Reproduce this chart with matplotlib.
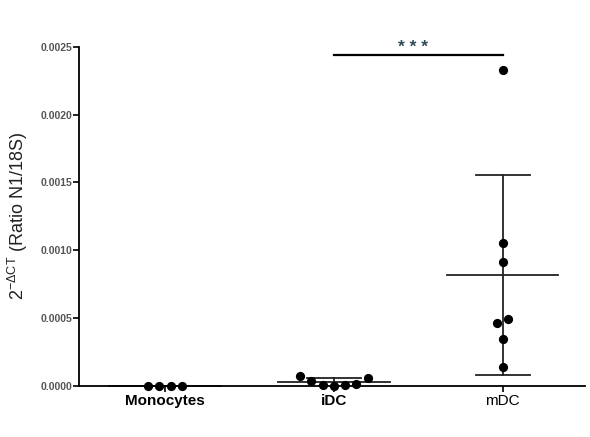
import numpy as np
import matplotlib
matplotlib.use("Agg")
import matplotlib.pyplot as plt

plt.rcParams['font.family'] = ['Liberation Sans', 'DejaVu Sans']
plt.rcParams['mathtext.fontset'] = 'custom'
plt.rcParams['mathtext.rm'] = 'Liberation Sans'
plt.rcParams['mathtext.it'] = 'Liberation Sans'

# groups and measured values (2^-dCT, ratio N1/18S)
groups = ['Monocytes', 'iDC', 'mDC']
monocytes = [0.0, 0.0, 0.0, 0.0]
idc = [0.00007, 0.000035, 0.000005, 0.0, 0.000005, 0.00001, 0.000055]
mdc = [0.00233, 0.00105, 0.00091, 0.00046, 0.00049, 0.00034, 0.00014]
values = [monocytes, idc, mdc]

yticks = [0.0, 0.0005, 0.0010, 0.0015, 0.0020, 0.0025]
sig_label = '* * *'

fig = plt.figure(figsize=(5.9, 4.37), dpi=100)
ax = fig.add_axes([0.134, 0.1178, 0.858, 0.7746])
ax.set_xlim(0.49, 3.49)
ax.set_ylim(0, 0.0025)

# pixel scale for a simple swarm layout
px_per_x = ax.get_position().width * fig.get_figwidth() * fig.dpi / 3.0
px_per_y = ax.get_position().height * fig.get_figheight() * fig.dpi / 0.0025
dot_px = 11.3


def swarm_offsets(vals):
    vals = np.asarray(vals)
    order = np.argsort(vals, kind='stable')
    clusters = [[order[0]]]
    for i in order[1:]:
        if (vals[i] - vals[clusters[-1][-1]]) * px_per_y < 9:
            clusters[-1].append(i)
        else:
            clusters.append([i])
    off = np.zeros(len(vals))
    for c in clusters:
        c = sorted(c)
        n = len(c)
        for k, i in enumerate(c):
            off[i] = (k - (n - 1) / 2) * dot_px / px_per_x
    return off


for i, vals in enumerate(values):
    pos = i + 1
    xs = pos + swarm_offsets(vals)
    ax.scatter(xs, vals, s=44, color='black', zorder=3, clip_on=False,
               linewidths=0)
    m = np.mean(vals)
    sd = np.std(vals, ddof=1)
    ax.plot([pos - 0.33, pos + 0.33], [m, m], color='#222222', lw=1.3,
            zorder=2, clip_on=False)
    if sd > 0:
        ax.plot([pos, pos], [max(m - sd, 0), m + sd], color='#222222',
                lw=1.3, zorder=2)
        for yv in (m - sd, m + sd):
            if yv >= 0:
                ax.plot([pos - 0.16, pos + 0.16], [yv, yv], color='#222222',
                        lw=1.3, zorder=2)

# significance bar between iDC and mDC
ax.plot([2, 3], [0.00244, 0.00244], color='black', lw=1.6, clip_on=False)
ax.text(2.467, 0.00246, sig_label, ha='center', va='baseline', fontsize=12.5,
        fontweight='bold', color='#2b4a5a')

ax.spines['top'].set_visible(False)
ax.spines['right'].set_visible(False)
ax.spines['left'].set_linewidth(1.3)
ax.spines['bottom'].set_linewidth(1.3)

ax.set_yticks(yticks)
ax.set_yticklabels(['%.4f' % v for v in yticks], fontsize=7.5,
                   fontweight='bold', color='#555555')
ax.tick_params(axis='y', length=4, width=1.2, pad=1)
ax.set_xticks([1, 2, 3])
ax.set_xticklabels(groups, fontsize=11)
for lab, w in zip(ax.get_xticklabels(), ['bold', 'bold', 'normal']):
    lab.set_fontweight(w)
ax.tick_params(axis='x', length=4, width=1.2, pad=2)

ax.set_ylabel(r'$2^{-\Delta CT}$ (Ratio N1/18S)', fontsize=13, color='#222222')
ax.yaxis.set_label_coords(-0.097, 0.5)

fig.savefig('out.png', dpi=100)
